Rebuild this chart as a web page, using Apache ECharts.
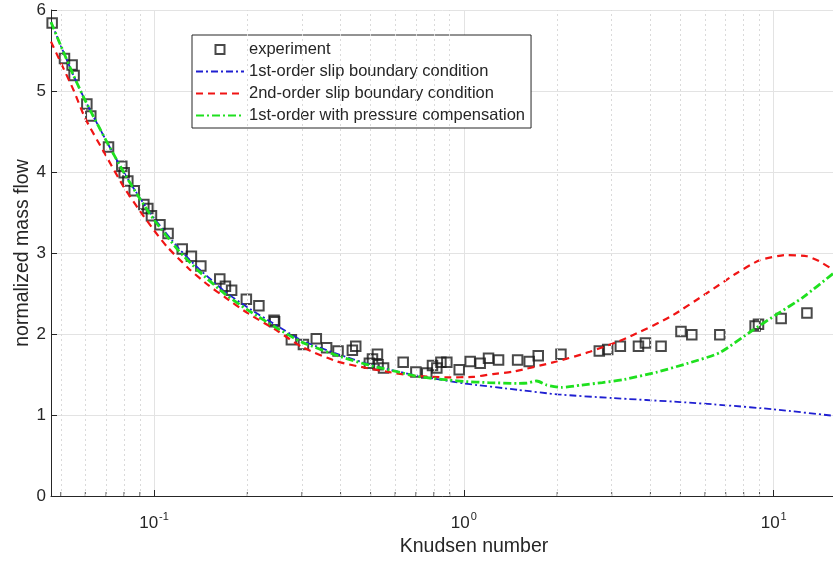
<!DOCTYPE html>
<html>
<head>
<meta charset="utf-8">
<script src="https://cdn.jsdelivr.net/npm/echarts@6/dist/echarts.min.js"></script>
<style>
  html, body { margin: 0; padding: 0; background: #fff; }
  #chart { width: 833px; height: 561px; }
</style>
</head>
<body>
<div id="chart"></div>
<script>
// experiment points (Knudsen number, normalized mass flow)
const expKn = [0.0469, 0.0514, 0.0544, 0.0552, 0.0607, 0.0625, 0.0713, 0.0787, 0.0801, 0.0823,
  0.0863, 0.0927, 0.0955, 0.0981, 0.1045, 0.111, 0.1233, 0.132, 0.1416, 0.163,
  0.170, 0.178, 0.1986, 0.218, 0.244, 0.245, 0.2775, 0.3035, 0.334, 0.3606,
  0.3925, 0.4366, 0.4477, 0.4955, 0.507, 0.526, 0.5285, 0.5505, 0.637, 0.70,
  0.759, 0.792, 0.818, 0.843, 0.881, 0.966, 1.048, 1.129, 1.201, 1.294,
  1.491, 1.625, 1.738, 2.057, 2.736, 2.912, 3.199, 3.66, 3.855, 4.33,
  5.02, 5.44, 6.70, 8.71, 8.93, 10.57, 12.8];
const expFlow = [5.84, 5.40, 5.32, 5.19, 4.84, 4.69, 4.31, 4.07, 3.99, 3.89,
  3.77, 3.60, 3.55, 3.46, 3.35, 3.24, 3.05, 2.96, 2.84, 2.68,
  2.59, 2.54, 2.43, 2.35, 2.17, 2.15, 1.93, 1.87, 1.94, 1.83,
  1.79, 1.80, 1.85, 1.64, 1.69, 1.75, 1.62, 1.58, 1.65, 1.53,
  1.52, 1.61, 1.58, 1.65, 1.65, 1.56, 1.66, 1.64, 1.70, 1.68,
  1.68, 1.66, 1.73, 1.75, 1.79, 1.81, 1.85, 1.85, 1.89, 1.85,
  2.03, 1.99, 1.99, 2.10, 2.12, 2.19, 2.26];

// 1st-order slip boundary condition
const firstKn = [0.0465, 0.05, 0.055, 0.06, 0.07, 0.08, 0.09, 0.1, 0.12, 0.14,
  0.17, 0.2, 0.25, 0.3, 0.4, 0.5, 0.6, 0.7, 0.8, 1.0,
  1.5, 2, 3, 5, 7, 10, 15.6];
const firstFlow = [5.85, 5.56, 5.19, 4.88, 4.39, 3.99, 3.68, 3.43, 3.06, 2.80,
  2.52, 2.33, 2.10, 1.92, 1.74, 1.62, 1.545, 1.49, 1.45, 1.39,
  1.31, 1.255, 1.21, 1.16, 1.12, 1.07, 0.99];

// 2nd-order slip boundary condition
const secondKn = [0.0465, 0.05, 0.055, 0.06, 0.07, 0.08, 0.09, 0.1, 0.11, 0.13,
  0.15, 0.17, 0.2, 0.25, 0.3, 0.39, 0.485, 0.563, 0.67, 0.88,
  1.07, 1.24, 1.44, 1.99, 2.55, 3.35, 4.62, 6.06, 7.59, 9.0,
  11.0, 12.8, 14.0, 15.6];
const secondFlow = [5.61, 5.35, 5.01, 4.66, 4.20, 3.81, 3.52, 3.28, 3.08, 2.80,
  2.60, 2.45, 2.26, 2.04, 1.84, 1.66, 1.58, 1.535, 1.49, 1.465,
  1.47, 1.505, 1.535, 1.66, 1.78, 1.95, 2.21, 2.50, 2.75, 2.91,
  2.975, 2.96, 2.90, 2.79];

// 1st-order with pressure compensation
const pressKn = [0.0465, 0.05, 0.055, 0.06, 0.07, 0.08, 0.09, 0.1, 0.12, 0.14,
  0.17, 0.2, 0.25, 0.3, 0.4, 0.5, 0.6, 0.7, 0.8, 0.9,
  1.0, 1.2, 1.5, 1.6, 1.72, 1.85, 2.06, 2.4, 2.8, 3.3,
  4.2, 5.3, 6.7, 8.5, 10.3, 12.4, 15.6];
const pressFlow = [5.85, 5.56, 5.19, 4.88, 4.39, 3.99, 3.67, 3.41, 3.03, 2.77,
  2.49, 2.30, 2.07, 1.90, 1.72, 1.61, 1.54, 1.48, 1.45, 1.43,
  1.415, 1.40, 1.39, 1.395, 1.42, 1.37, 1.34, 1.37, 1.40, 1.44,
  1.53, 1.64, 1.77, 2.04, 2.25, 2.45, 2.75];

const minorKn = [0.05, 0.06, 0.07, 0.08, 0.09,
  0.2, 0.3, 0.4, 0.5, 0.6, 0.7, 0.8, 0.9,
  2, 3, 4, 5, 6, 7, 8, 9, 20];

const names = ['experiment', '1st-order slip boundary condition',
  '2nd-order slip boundary condition', '1st-order with pressure compensation'];

const zip = (xs, ys) => xs.map((x, i) => [x, ys[i]]);
const axisColor = '#262626';

// small square centred in the 48x9 legend slot
const squareIcon = 'path://M0,0M48,9M19.5,0L28.5,0L28.5,9L19.5,9Z';

const chart = echarts.init(document.getElementById('chart'));

chart.setOption({
  backgroundColor: '#fff',
  animation: false,
  textStyle: { fontFamily: 'Liberation Sans, Arial, sans-serif' },
  // the axes box runs past the right edge of the picture, as in the original
  grid: { left: 51, right: -64, top: 10, bottom: 65, outerBoundsMode: 'none' },
  legend: {
    data: [
      { name: names[0], icon: squareIcon },
      { name: names[1], itemStyle: { opacity: 0 } },
      { name: names[2], itemStyle: { opacity: 0 } },
      { name: names[3], itemStyle: { opacity: 0 } }
    ],
    orient: 'vertical',
    left: 192,
    top: 35,
    padding: [5, 6, 3, 3],
    itemWidth: 48,
    itemHeight: 9,
    itemGap: 3,
    backgroundColor: '#fff',
    borderColor: axisColor,
    borderWidth: 1,
    textStyle: { fontSize: 16.5, color: axisColor, lineHeight: 19 }
  },
  xAxis: {
    type: 'log',
    logBase: 10,
    min: 0.0465,
    max: 25,
    name: 'Knudsen number',
    nameLocation: 'middle',
    nameGap: 41,
    nameTextStyle: { fontSize: 19.5, color: axisColor },
    axisLine: { lineStyle: { color: axisColor, width: 1 } },
    axisTick: { inside: true, length: 6, lineStyle: { color: axisColor } },
    splitLine: { show: true, lineStyle: { color: '#e3e3e3', width: 1 } },
    axisLabel: {
      showMinLabel: false,
      showMaxLabel: false,
      margin: 15,
      formatter: v => '{b|10}{s|' + Math.round(Math.log10(v)) + '}',
      rich: {
        b: { fontSize: 17, color: axisColor, verticalAlign: 'bottom' },
        s: { fontSize: 11, color: axisColor, verticalAlign: 'bottom', padding: [0, 0, 10, 1] }
      }
    }
  },
  yAxis: {
    type: 'value',
    min: 0,
    max: 6,
    interval: 1,
    name: 'normalized mass flow',
    nameLocation: 'middle',
    nameGap: 18,
    nameMoveOverlap: false,
    nameTextStyle: { fontSize: 19.5, color: axisColor },
    axisLine: { show: true, lineStyle: { color: axisColor, width: 1 } },
    axisTick: { show: true, inside: true, length: 6, lineStyle: { color: axisColor } },
    splitLine: { show: true, lineStyle: { color: '#e3e3e3', width: 1 } },
    axisLabel: { fontSize: 17, color: axisColor, margin: 5 }
  },
  series: [
    {
      name: 'minor',
      type: 'scatter',
      silent: true,
      z: 1,
      symbol: 'rect',
      symbolSize: [1, 4],
      symbolOffset: [0, -2],
      itemStyle: { color: axisColor },
      data: minorKn.map(k => [k, 0]),
      markLine: {
        silent: true,
        symbol: 'none',
        label: { show: false },
        lineStyle: { type: [2, 3], color: '#dadada', width: 1 },
        data: minorKn.map(k => ({ xAxis: k }))
      }
    },
    {
      name: names[0],
      type: 'scatter',
      symbol: 'rect',
      symbolSize: 9.5,
      z: 2,
      itemStyle: { color: 'rgba(0,0,0,0)', borderColor: '#1c1c1c', borderWidth: 2 },
      data: zip(expKn, expFlow)
    },
    {
      name: names[1],
      type: 'line',
      symbol: 'none',
      smooth: 0.2,
      z: 3,
      lineStyle: { color: '#1f1fd1', width: 1.8, type: [7, 3, 2, 3] },
      itemStyle: { color: '#1f1fd1' },
      data: zip(firstKn, firstFlow)
    },
    {
      name: names[2],
      type: 'line',
      symbol: 'none',
      smooth: 0.2,
      z: 4,
      lineStyle: { color: '#f01414', width: 2.2, type: [7, 5] },
      itemStyle: { color: '#f01414' },
      data: zip(secondKn, secondFlow)
    },
    {
      name: names[3],
      type: 'line',
      symbol: 'none',
      smooth: 0.2,
      z: 5,
      lineStyle: { color: '#1fe01f', width: 2.8, type: [8, 3, 2, 3] },
      itemStyle: { color: '#1fe01f' },
      data: zip(pressKn, pressFlow)
    }
  ]
});
</script>
</body>
</html>
